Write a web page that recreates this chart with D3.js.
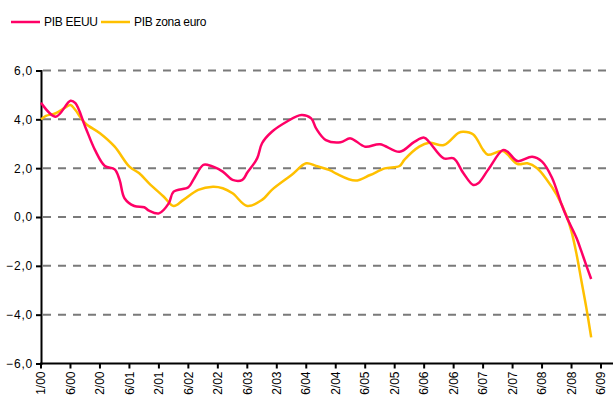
<!DOCTYPE html>
<html>
<head>
<meta charset="utf-8">
<script src="https://cdn.jsdelivr.net/npm/d3@7"></script>
<style>
body { margin: 0; background: #fff; }
text { font-family: "Liberation Sans", Arial, sans-serif; fill: #000; }
</style>
</head>
<body>
<script>
// etiquetas del eje x (una cada 6 meses, tal como se ven en el original)
var etiquetas = ["1/00","6/00","2/00","6/01","2/01","6/02","2/02","6/03","2/03","6/04",
                 "2/04","6/05","2/05","6/06","2/06","6/07","2/07","6/08","2/08","6/09"];
var yTicks = [-6, -4, -2, 0, 2, 4, 6];

// PIB EEUU (mes desde ene-2000, valor %)
var mesesEEUU = [0,3,6,7,9,11,13,15,16,17,19,21,22,24,26,27,30,31,33,34,37,39,41,42,44,45,47,50,53,55,56,58,61,63,66,69,73,76,78,79,82,84,86,88,89,91,94,95,97,100,102,104,106,107,109,110,111,112];
var valoresEEUU = [4.68,4.11,4.76,4.66,3.70,2.74,2.09,1.95,1.52,0.77,0.45,0.40,0.26,0.15,0.56,1.04,1.22,1.52,2.13,2.13,1.86,1.52,1.52,1.82,2.40,3.02,3.49,3.90,4.18,4.04,3.63,3.15,3.06,3.22,2.88,2.98,2.67,3.08,3.25,3.08,2.40,2.40,1.79,1.31,1.38,1.93,2.74,2.67,2.29,2.47,2.27,1.62,0.50,0.00,-0.85,-1.40,-1.98,-2.54];

// PIB zona euro
var mesesEuro = [0,1,3,5,6,7,9,12,15,18,20,22,25,27,29,32,35,37,39,42,45,47,51,54,56,59,60,64,67,70,73,74,77,79,82,85,86,88,90,91,94,97,99,101,103,105,107,108,109,110,111,112];
var valoresEuro = [4.00,4.14,4.25,4.49,4.59,4.38,3.84,3.43,2.88,2.06,1.79,1.38,0.83,0.45,0.70,1.11,1.24,1.18,0.97,0.45,0.70,1.11,1.72,2.20,2.09,1.90,1.79,1.49,1.72,1.99,2.09,2.35,2.88,3.04,2.95,3.45,3.49,3.38,2.75,2.55,2.70,2.17,2.20,2.00,1.52,0.91,0.04,-0.60,-1.50,-2.60,-3.70,-4.93];

var series = [
  {name: "PIB EEUU", color: "#FF0066", meses: mesesEEUU, valores: valoresEEUU},
  {name: "PIB zona euro", color: "#FFC000", meses: mesesEuro, valores: valoresEuro}
];

var width = 615, height = 400;

var svg = d3.select("body").append("svg")
    .attr("width", width)
    .attr("height", height);

var x = d3.scaleLinear().domain([0, 114]).range([41, 601]);
var y = d3.scaleLinear().domain([-6, 6]).range([363.5, 70.5]);

// lineas de rejilla discontinuas
svg.selectAll(".grid")
    .data(yTicks.filter(function(d) { return d > -6; }))
  .enter().append("line")
    .attr("class", "grid")
    .attr("x1", 43).attr("x2", 613)
    .attr("y1", function(d) { return y(d); })
    .attr("y2", function(d) { return y(d); })
    .attr("stroke", "#7a7a7a")
    .attr("stroke-width", 2)
    .attr("stroke-dasharray", "8,7");

// eje y
var fmt = d3.format(".1f");
var yAxis = svg.append("g")
    .attr("transform", "translate(41,0)")
    .call(d3.axisLeft(y).tickValues(yTicks).tickSize(5).tickPadding(3)
      .tickFormat(function(d) { return fmt(d).replace(".", ","); }));
yAxis.select(".domain").attr("stroke", "#000").attr("stroke-width", 2);
yAxis.selectAll(".tick line").attr("stroke", "#000").attr("stroke-width", 2);
yAxis.selectAll("text")
    .style("font-size", "12px")
    .style("letter-spacing", "0.8px")
    .style("font-family", "'Liberation Sans', Arial, sans-serif")
    .attr("fill", "#000");

// eje x
svg.append("line")
    .attr("x1", 40).attr("x2", 613)
    .attr("y1", y(-6)).attr("y2", y(-6))
    .attr("stroke", "#000").attr("stroke-width", 2);

var xt = svg.selectAll(".xtick")
    .data(etiquetas)
  .enter().append("g")
    .attr("class", "xtick")
    .attr("transform", function(d, i) { return "translate(" + x(i * 6) + "," + y(-6) + ")"; });

xt.append("line")
    .attr("y1", 0).attr("y2", 5)
    .attr("stroke", "#000").attr("stroke-width", 2);

xt.append("text")
    .attr("transform", "translate(0,8) rotate(-90)")
    .attr("dy", "0.35em")
    .style("text-anchor", "end")
    .style("font-size", "12px")
    .text(function(d) { return d; });

// lineas de datos
var line = d3.line()
    .x(function(d) { return x(d[0]); })
    .y(function(d) { return y(d[1]); })
    .curve(d3.curveCatmullRom.alpha(0.5));

series.slice().reverse().forEach(function(s) {
  var pts = s.meses.map(function(m, i) { return [m, s.valores[i]]; });
  svg.append("path")
      .datum(pts)
      .attr("fill", "none")
      .attr("stroke", s.color)
      .attr("stroke-width", 2.5)
      .attr("stroke-linejoin", "round")
      .attr("d", line);
});

// leyenda
var legX = [11, 101];
var leg = svg.selectAll(".leg")
    .data(series)
  .enter().append("g")
    .attr("class", "leg")
    .attr("transform", function(d, i) { return "translate(" + legX[i] + ",22)"; });

leg.append("line")
    .attr("x1", 0).attr("x2", 29)
    .attr("stroke", function(d) { return d.color; })
    .attr("stroke-width", 2.5);

leg.append("text")
    .attr("x", 33)
    .attr("y", 4)
    .style("font-size", "12px")
    .style("letter-spacing", "-0.3px")
    .text(function(d) { return d.name; });
</script>
</body>
</html>
